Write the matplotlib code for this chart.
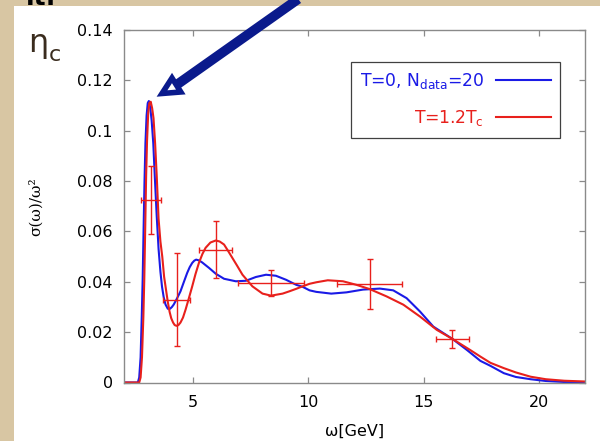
import matplotlib
matplotlib.use("Agg")
import matplotlib.pyplot as plt
from matplotlib.patches import Rectangle, Polygon
from matplotlib.lines import Line2D

plt.rcParams['font.family'] = ['DejaVu Sans']
plt.rcParams['mathtext.fontset'] = 'dejavusans'

# ---- data ----
omega_blue = [2.0, 2.5, 2.6, 2.66, 2.72, 2.77, 2.81, 2.85, 2.89, 2.93, 2.98, 3.03, 3.08, 3.14,
              3.20, 3.27, 3.34, 3.42, 3.50, 3.58, 3.65, 3.72, 3.80, 3.90, 4.00, 4.08, 4.16, 4.30,
              4.45, 4.60, 4.74, 4.85, 4.96, 5.05, 5.13, 5.25, 5.39, 5.69, 5.98, 6.34, 6.85, 7.29,
              7.72, 8.16, 8.59, 9.03, 9.47, 9.75, 10.05, 10.34, 10.99, 11.65, 12.37, 13.10, 13.68,
              14.26, 14.84, 15.42, 16.25, 16.88, 17.46, 17.90, 18.48, 19.0, 19.64, 20.3, 21.1, 22.0]
sigma_blue = [0, 0, 0, 0.002, 0.010, 0.026, 0.041, 0.061, 0.080, 0.095, 0.106, 0.111, 0.1118, 0.109,
              0.104, 0.095, 0.081, 0.066, 0.053, 0.044, 0.038, 0.034, 0.031, 0.0293, 0.0293, 0.0300, 0.031, 0.0334,
              0.0362, 0.0400, 0.0435, 0.0458, 0.0475, 0.0484, 0.0488, 0.0485, 0.0477, 0.0455, 0.0432, 0.0412, 0.0402, 0.0404,
              0.0419, 0.0428, 0.0424, 0.0408, 0.0388, 0.0380, 0.0366, 0.0360, 0.0353, 0.0358, 0.0369, 0.0373, 0.0366,
              0.0335, 0.0282, 0.0222, 0.0173, 0.0129, 0.0086, 0.0066, 0.0037, 0.0022, 0.0013, 0.0006, 0.0002, 0.0001]

omega_red = [2.0, 2.5, 2.66, 2.72, 2.78, 2.84, 2.88, 2.92, 2.96, 3.00, 3.05, 3.10, 3.16, 3.22,
             3.28, 3.35, 3.42, 3.50, 3.58, 3.66, 3.74, 3.82, 3.90, 3.98, 4.05, 4.13, 4.20, 4.28, 4.36,
             4.45, 4.56, 4.67, 4.80, 4.96, 5.10, 5.25, 5.40, 5.54, 5.75, 5.98, 6.15, 6.34, 6.50, 6.70,
             6.90, 7.14, 7.57, 8.01, 8.38, 8.88, 9.17, 9.47, 9.75, 10.05, 10.34, 10.84, 11.50, 12.08,
             12.66, 13.39, 14.12, 14.84, 15.57, 16.25, 17.02, 17.46, 17.90, 18.48, 19.0, 19.64, 20.3, 21.1, 22.0]
sigma_red = [0, 0, 0, 0.002, 0.010, 0.026, 0.041, 0.061, 0.082, 0.096, 0.107, 0.111, 0.1115, 0.109,
             0.105, 0.095, 0.082, 0.065, 0.056, 0.050, 0.042, 0.037, 0.032, 0.028, 0.0255, 0.0238, 0.0228, 0.0225, 0.0228,
             0.0238, 0.0258, 0.0289, 0.0330, 0.0382, 0.0430, 0.0475, 0.0510, 0.0535, 0.0556, 0.0564, 0.0560, 0.0548, 0.0525, 0.0495,
             0.0465, 0.0428, 0.0382, 0.0353, 0.0345, 0.0353, 0.0362, 0.0372, 0.0382, 0.0392, 0.0398, 0.0406, 0.0402, 0.0388,
             0.0371, 0.0342, 0.0309, 0.0262, 0.0209, 0.0173, 0.0129, 0.0103, 0.0078, 0.0057, 0.0040, 0.0023, 0.0013, 0.0007, 0.0004]

pts_omega = [3.17, 4.28, 5.98, 8.38, 12.66, 16.25]
pts_sigma = [0.0724, 0.0329, 0.0528, 0.0395, 0.0391, 0.0173]
pts_xerr = [0.44, 0.60, 0.72, 1.43, 1.42, 0.73]
pts_yerr = [0.0135, 0.0186, 0.0112, 0.0050, 0.0100, 0.0037]

label_blue = r'T=0, N$_{\mathrm{data}}$=20'
label_red = r'T=1.2T$_{\mathrm{c}}$'
x_ticks = [5, 10, 15, 20]
y_ticks = [0, 0.02, 0.04, 0.06, 0.08, 0.1, 0.12, 0.14]
y_ticklabels = ['0', '0.02', '0.04', '0.06', '0.08', '0.1', '0.12', '0.14']

# ---- figure ----
W, H = 600, 441
parchment = '#d8c6a3'
fig = plt.figure(figsize=(6, 4.41), dpi=100, facecolor=parchment)
fig.patches.append(Rectangle((14 / W, 0), 1, 1 - 6 / H, transform=fig.transFigure,
                             facecolor='white', edgecolor='none', zorder=-5))

ax = fig.add_axes([124 / W, 1 - 382.5 / H, 461 / W, 352.5 / H])
ax.set_zorder(1)
blue = '#1a1ae6'
red = '#e8201c'
ax.plot(omega_blue, sigma_blue, color=blue, lw=1.5, label=label_blue)
ax.plot(omega_red, sigma_red, color=red, lw=1.5, label=label_red)
ax.errorbar(pts_omega, pts_sigma, xerr=pts_xerr, yerr=pts_yerr, fmt='none',
            ecolor=red, elinewidth=1.0, capsize=2.5, capthick=1.0)

ax.set_xlim(2, 22)
ax.set_ylim(0, 0.14)
ax.set_xticks(x_ticks)
ax.set_xticklabels([str(t) for t in x_ticks])
ax.set_yticks(y_ticks)
ax.set_yticklabels(y_ticklabels)
for s in ax.spines.values():
    s.set_color('#8a8a8a')
    s.set_linewidth(1.0)
ax.tick_params(direction='in', top=True, right=True, length=4.5, width=0.9,
               color='#8a8a8a', labelsize=11.5, labelcolor='black')
ax.tick_params(axis='x', pad=9)
ax.tick_params(axis='y', pad=8)

ax.set_xlabel('ω[GeV]', fontsize=11.5)
ax.xaxis.set_label_coords(0.5, (382.5 - 424) / 352.5)
ax.set_ylabel('σ(ω)/ω²', fontsize=11, family='DejaVu Serif')
ax.yaxis.set_label_coords((43 - 124) / 461, 0.5)

leg = ax.legend(loc='upper right', bbox_to_anchor=((560 - 124) / 461, (382.5 - 62) / 352.5),
                borderaxespad=0, markerfirst=False, labelcolor='linecolor', fontsize=12.3,
                handlelength=3.2, handletextpad=0.7, labelspacing=1.0, borderpad=0.55,
                fancybox=False, framealpha=1, edgecolor='#404040')
leg.get_frame().set_linewidth(0.9)

# ---- decorations: eta_c label, slide title fragment, arrow ----
fig.text(28 / W, 1 - 52 / H, 'η', fontsize=23, color='#3a2c1e', va='baseline')
fig.text(49 / W, 1 - 61 / H, 'c', fontsize=16, color='#3a2c1e', va='baseline')
fig.text(56 / W, 1 - 5 / H, 'it:', fontsize=18, fontweight='bold', color='black',
         ha='right', va='baseline')

navy = '#0a1a8c'
def fp(px, py):
    return (px / W, 1 - py / H)

s0 = fp(311, -10)
s1 = fp(176.4, 85)
fig.lines.append(Line2D([s0[0], s1[0]], [s0[1], s1[1]], transform=fig.transFigure,
                        color=navy, lw=7, solid_capstyle='butt', zorder=5))
head = Polygon([fp(162, 93.5), fp(172, 78), fp(180.8, 92)], closed=True,
               transform=fig.transFigure, facecolor='white', edgecolor=navy,
               lw=4, joinstyle='miter', zorder=6)
fig.patches.append(head)

fig.savefig('out.png', dpi=100, facecolor=parchment)
